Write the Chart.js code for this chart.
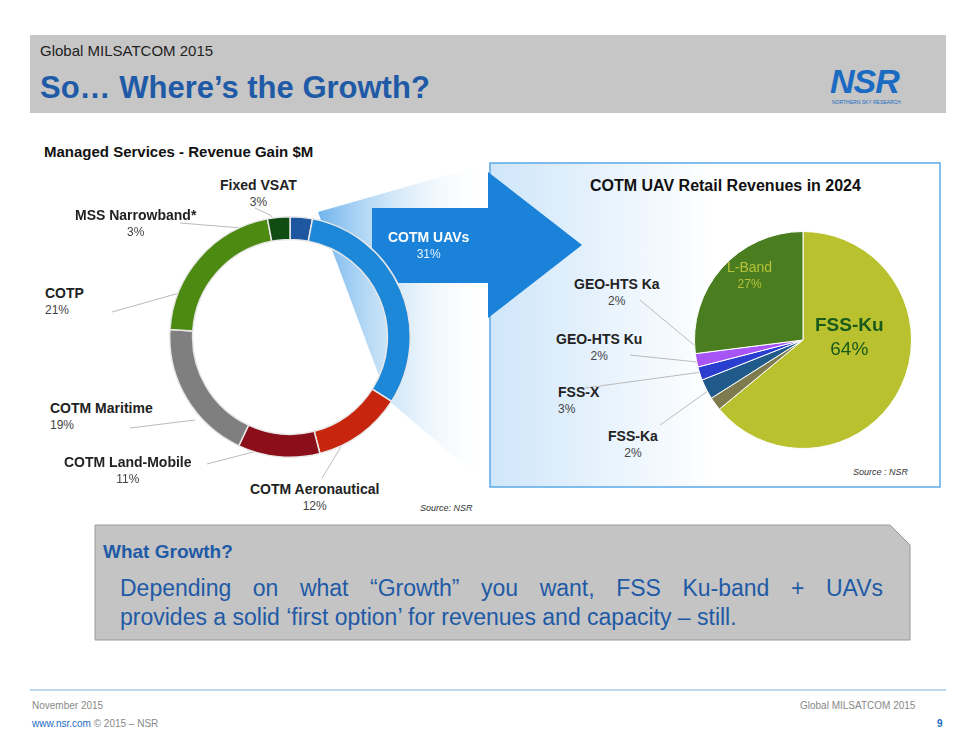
<!DOCTYPE html>
<html><head><meta charset="utf-8">
<script src="https://cdn.jsdelivr.net/npm/chart.js@4"></script>
<style>
body{margin:0;width:975px;height:754px;background:#fff;font-family:Arial,"Liberation Sans",sans-serif;position:relative;overflow:hidden}
.a{position:absolute;white-space:nowrap}
.lb{font-size:14px;font-weight:bold;color:#222;text-align:center;line-height:17px}
.lb span{font-weight:normal;font-size:12px;color:#444;display:block}
</style></head><body>
<div class="a" style="left:30px;top:35px;width:916px;height:78px;background:#c6c6c6"></div>
<div class="a" style="left:40px;top:42px;font-size:15px;color:#222">Global MILSATCOM 2015</div>
<div class="a" style="left:40px;top:70px;font-size:31px;font-weight:bold;color:#1f5aa6">So… Where’s the Growth?</div>
<div class="a" style="left:830px;top:62px;font-size:34px;font-weight:bold;font-style:italic;color:#1b6bc2;letter-spacing:-1px">NSR</div>
<div class="a" style="left:832px;top:99px;font-size:5px;color:#1b6bc2">NORTHERN SKY RESEARCH</div>
<svg class="a" style="left:0;top:0" width="975" height="754">
<defs>
<linearGradient id="g1" x1="0" x2="1" y1="0" y2="0"><stop offset="0" stop-color="#6fb4ec"/><stop offset="1" stop-color="#ffffff" stop-opacity="0"/></linearGradient>
<linearGradient id="g2" x1="0" x2="1"><stop offset="0" stop-color="#cfe6fa"/><stop offset="0.5" stop-color="#ffffff"/></linearGradient>
</defs>
<rect x="490" y="163" width="450" height="324" fill="url(#g2)" stroke="#5aa9e6" stroke-width="1.5"/>
<polygon points="318,212 490,163 490,487 388,400" fill="url(#g1)"/>
<polygon points="372,208 488,208 488,172 582,245 488,318 488,283 372,283" fill="#1a82d8"/>
<polygon points="95,525 890,525 910,545 910,640 95,640" fill="#c4c4c4" stroke="#999" stroke-width="1"/>
<line x1="30" y1="690" x2="946" y2="690" stroke="#7fb2e0" stroke-width="1"/>
<g stroke="#bbb" stroke-width="1" fill="none">
<polyline points="255,208 270,215 284,228"/>
<polyline points="180,223 278,231"/>
<polyline points="112,312 190,290"/>
<polyline points="130,428 195,420"/>
<polyline points="207,464 280,445"/>
<polyline points="322,478 350,432"/>
<polyline points="640,300 700,350"/>
<polyline points="630,355 697,362"/>
<polyline points="585,388 702,372"/>
<polyline points="660,425 712,388"/>
</g>
</svg>
<div class="a" style="left:44px;top:143px;font-size:15px;font-weight:bold;color:#111">Managed Services - Revenue Gain $M</div>
<div class="a" style="left:169px;top:216px;width:242px;height:242px"><canvas id="c1"></canvas></div>
<div class="a" style="left:694px;top:231px;width:218px;height:218px"><canvas id="c2"></canvas></div>
<div class="a lb" style="left:220px;top:177px">Fixed VSAT<span>3%</span></div>
<div class="a lb" style="left:75px;top:207px">MSS Narrowband*<span>3%</span></div>
<div class="a lb" style="left:45px;top:285px;text-align:left">COTP<span>21%</span></div>
<div class="a lb" style="left:50px;top:400px;text-align:left">COTM Maritime<span>19%</span></div>
<div class="a lb" style="left:64px;top:454px">COTM Land-Mobile<span>11%</span></div>
<div class="a lb" style="left:250px;top:481px">COTM Aeronautical<span>12%</span></div>
<div class="a" style="left:420px;top:503px;font-size:9px;font-style:italic;color:#333">Source: NSR</div>
<div class="a lb" style="left:388px;top:229px;color:#fff">COTM UAVs<span style="color:#e6f2ff">31%</span></div>
<div class="a" style="left:590px;top:177px;font-size:16px;font-weight:bold;color:#111">COTM UAV Retail Revenues in 2024</div>
<div class="a lb" style="left:574px;top:276px">GEO-HTS Ka<span>2%</span></div>
<div class="a lb" style="left:556px;top:331px">GEO-HTS Ku<span>2%</span></div>
<div class="a lb" style="left:558px;top:384px;text-align:left">FSS-X<span>3%</span></div>
<div class="a lb" style="left:608px;top:428px">FSS-Ka<span>2%</span></div>
<div class="a lb" style="left:727px;top:259px;color:#b7c23a;font-weight:normal">L-Band<span style="color:#b7c23a">27%</span></div>
<div class="a" style="left:815px;top:313px;font-size:19px;font-weight:bold;color:#1a5a1a;text-align:center;line-height:24px">FSS-Ku<br><span style="font-weight:normal">64%</span></div>
<div class="a" style="left:853px;top:467px;font-size:9px;font-style:italic;color:#333">Source : NSR</div>
<div class="a" style="left:103px;top:541px;font-size:19px;font-weight:bold;color:#1f5aa6">What Growth?</div>
<div class="a" style="left:120px;top:573px;width:763px;white-space:normal;font-size:23px;color:#1f5aa6;text-align:justify;text-align-last:justify;line-height:30px">Depending on what “Growth” you want, FSS Ku-band + UAVs</div>
<div class="a" style="left:120px;top:602px;font-size:23px;color:#1f5aa6;line-height:30px">provides a solid ‘first option’ for revenues and capacity – still.</div>
<div class="a" style="left:32px;top:700px;font-size:10px;color:#888">November 2015</div>
<div class="a" style="left:32px;top:718px;font-size:10px;color:#888"><span style="color:#1b6bc2">www.nsr.com</span> © 2015 – NSR</div>
<div class="a" style="left:800px;top:700px;font-size:10px;color:#888">Global MILSATCOM 2015</div>
<div class="a" style="left:937px;top:718px;font-size:10px;color:#1b6bc2;font-weight:bold">9</div>
<script>
const svcLabels = ['Fixed VSAT','COTM UAVs','COTM Aeronautical','COTM Land-Mobile','COTM Maritime','COTP','MSS Narrowband*'];
const svcValues = [3,31,12,11,19,21,3];
const svcColors = ['#1e56a0','#1e88d8','#c8250f','#8b0f1a','#7f7f7f','#4d8a12','#0f4d12'];
const uavLabels = ['FSS-Ku','FSS-Ka','FSS-X','GEO-HTS Ku','GEO-HTS Ka','L-Band'];
const uavValues = [64,2,3,2,2,27];
const uavColors = ['#b9c22e','#7e7b4e','#1f5a8a','#2a3fd0','#a855f7','#4a7d1f'];
const base = {responsive:true,maintainAspectRatio:false,animation:false,plugins:{legend:{display:false},tooltip:{enabled:false}}};
new Chart(document.getElementById('c1'),{type:'doughnut',
  data:{labels:svcLabels,datasets:[{data:svcValues,backgroundColor:svcColors,borderColor:'#e8e8e8',borderWidth:1.5}]},
  options:{...base,cutout:'81%'}});
new Chart(document.getElementById('c2'),{type:'pie',
  data:{labels:uavLabels,datasets:[{data:uavValues,backgroundColor:uavColors,borderColor:'#ffffff',borderWidth:1}]},
  options:base});
</script>
</body></html>
